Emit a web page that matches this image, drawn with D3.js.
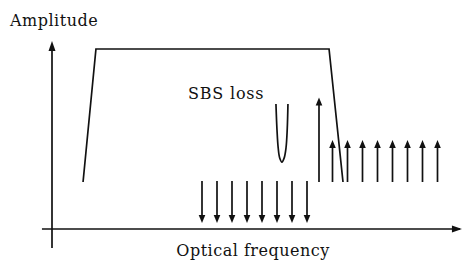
<!DOCTYPE html>
<html>
<head>
<meta charset="utf-8">
<script src="https://cdn.jsdelivr.net/npm/d3@7"></script>
<style>
  body { margin: 0; background: #fff; }
  text { font-family: "DejaVu Serif", "Liberation Serif", serif; fill: #111; }
</style>
</head>
<body>
<div id="chart"></div>
<script>
'use strict';

// frequency positions are in comb-spacing units, amplitudes in arbitrary units
var pumpBand = [[2.07, 2.61], [2.93, 10], [18.47, 10], [19.4, 2.61]];
var stokesFreq = [10, 11, 12, 13, 14, 15, 16, 17];          // downward arrows
var stokesTop = 2.67, stokesBottom = 0.33;
var antiFreq = [18.7, 19.7, 20.7, 21.7, 22.7, 23.7, 24.7, 25.7]; // upward arrows
var antiBase = 2.61, antiTop = 4.95;
var probeFreq = 17.8, probeTop = 7.3;
var sbsDip = [[14.93, 6.94], [15.0, 5.5], [15.08, 4.5], [15.18, 3.95], [15.33, 3.72],
              [15.48, 3.95], [15.6, 4.5], [15.68, 5.5], [15.73, 6.94]];
var labels = { y: 'Amplitude', x: 'Optical frequency', loss: 'SBS loss' };

var width = 462, height = 260;

var x = d3.scaleLinear().domain([0, 27]).range([52, 457]);
var y = d3.scaleLinear().domain([0, 10]).range([229, 49]);

var svg = d3.select('#chart')
            .append('svg')
            .attr('width', width)
            .attr('height', height);

var ink = '#111';
var lw = 1.7;

function arrowHead(x0, y0, dir, len, half) {
	// dir: -1 = pointing up, 1 = pointing down
	return 'M' + x0 + ',' + y0 +
	       'L' + (x0 - half) + ',' + (y0 - dir * len) +
	       'L' + (x0 + half) + ',' + (y0 - dir * len) + 'Z';
}

// axes
svg.append('line')
   .attr('x1', x(-0.67)).attr('x2', x(27.2))
   .attr('y1', y(0)).attr('y2', y(0))
   .attr('stroke', ink).attr('stroke-width', lw);
svg.append('path')
   .attr('d', 'M' + x(27.33) + ',' + y(0) + 'L' + (x(27.33) - 10) + ',' + (y(0) - 3.5) + 'L' + (x(27.33) - 10) + ',' + (y(0) + 3.5) + 'Z')
   .attr('fill', ink);

svg.append('line')
   .attr('x1', x(0)).attr('x2', x(0))
   .attr('y1', y(-1.05)).attr('y2', y(10.2))
   .attr('stroke', ink).attr('stroke-width', lw);
svg.append('path')
   .attr('d', arrowHead(x(0), y(10.45), -1, 10, 3.5))
   .attr('fill', ink);

// pump band
svg.append('path')
   .datum(pumpBand)
   .attr('d', d3.line().x(function (d) { return x(d[0]); }).y(function (d) { return y(d[1]); }))
   .attr('fill', 'none')
   .attr('stroke', ink)
   .attr('stroke-width', lw);

// SBS loss dip
svg.append('path')
   .datum(sbsDip)
   .attr('d', d3.line().curve(d3.curveCatmullRom)
                 .x(function (d) { return x(d[0]); })
                 .y(function (d) { return y(d[1]); }))
   .attr('fill', 'none')
   .attr('stroke', ink)
   .attr('stroke-width', lw);

// downward comb
var down = svg.selectAll('g.down')
              .data(stokesFreq)
              .enter()
              .append('g')
              .attr('class', 'down');
down.append('line')
    .attr('x1', function (d) { return x(d); })
    .attr('x2', function (d) { return x(d); })
    .attr('y1', y(stokesTop))
    .attr('y2', y(stokesBottom) - 6)
    .attr('stroke', ink).attr('stroke-width', lw);
down.append('path')
    .attr('d', function (d) { return arrowHead(x(d), y(stokesBottom), 1, 8, 3.3); })
    .attr('fill', ink);

// upward comb
var upData = antiFreq.map(function (f) { return { f: f, top: antiTop }; });
upData.unshift({ f: probeFreq, top: probeTop });

var up = svg.selectAll('g.up')
            .data(upData)
            .enter()
            .append('g')
            .attr('class', 'up');
up.append('line')
  .attr('x1', function (d) { return x(d.f); })
  .attr('x2', function (d) { return x(d.f); })
  .attr('y1', y(antiBase))
  .attr('y2', function (d) { return y(d.top) + 6; })
  .attr('stroke', ink).attr('stroke-width', lw);
up.append('path')
  .attr('d', function (d) { return arrowHead(x(d.f), y(d.top), -1, 8, 3.3); })
  .attr('fill', ink);

// labels
svg.append('text')
   .attr('x', 10).attr('y', 26)
   .style('font-size', '16px')
   .style('letter-spacing', '0.5px')
   .text(labels.y);

svg.append('text')
   .attr('x', 253).attr('y', 256)
   .attr('text-anchor', 'middle')
   .style('font-size', '16px')
   .style('letter-spacing', '0.5px')
   .text(labels.x);

svg.append('text')
   .attr('x', 188).attr('y', 99)
   .style('font-size', '16px')
   .style('letter-spacing', '0.8px')
   .text(labels.loss);
</script>
</body>
</html>
